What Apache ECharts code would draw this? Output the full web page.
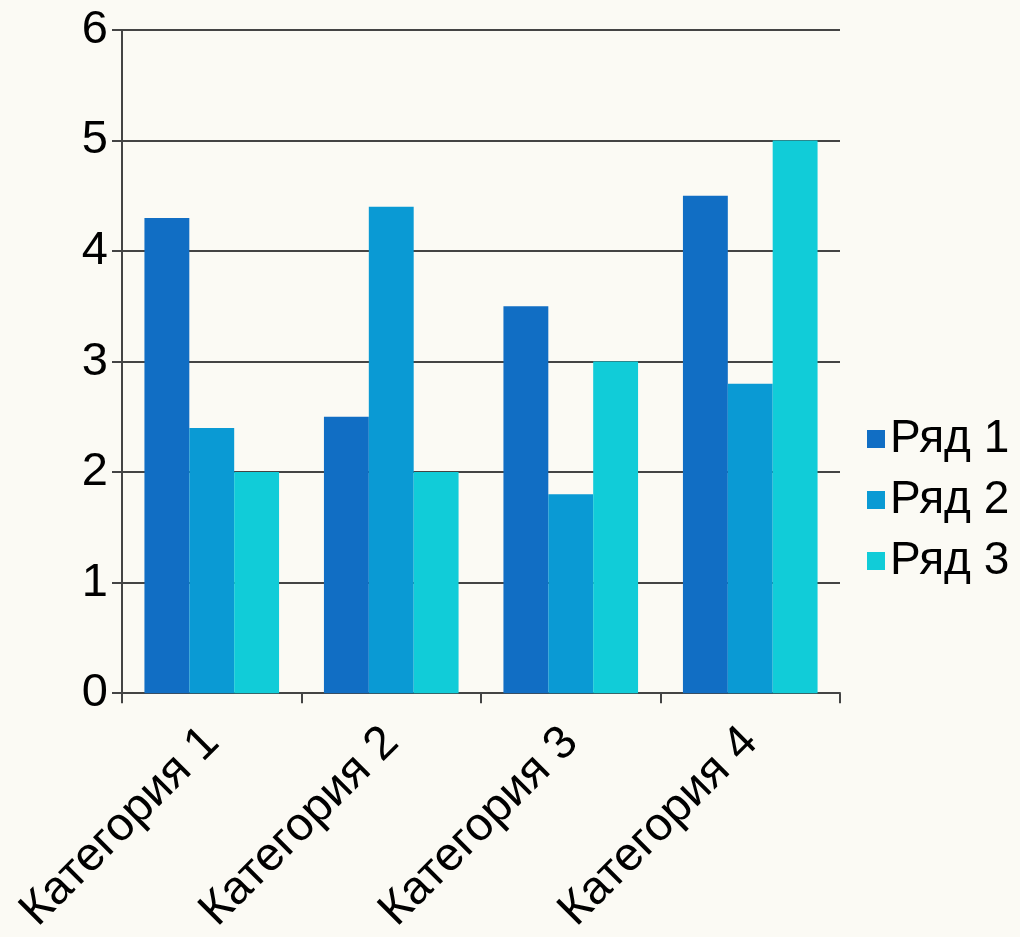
<!DOCTYPE html>
<html><head><meta charset="utf-8">
<script src="https://cdn.jsdelivr.net/npm/echarts@6/dist/echarts.min.js"></script>
<style>html,body{margin:0;padding:0;background:#fbfaf4;}#c{width:1020px;height:937px;}</style>
</head><body><div id="c"></div>
<script>
const categories = ['Категория 1','Категория 2','Категория 3','Категория 4'];
const seriesNames = ['Ряд 1','Ряд 2','Ряд 3'];
const row1 = [4.3, 2.5, 3.5, 4.5];
const row2 = [2.4, 4.4, 1.8, 2.8];
const row3 = [2.0, 2.0, 3.0, 5.0];
const colors = ['#116ec4','#0a9ad4','#11ccd8'];
const yTicks = [0,1,2,3,4,5,6];

const chart = echarts.init(document.getElementById('c'));
const font = 'Liberation Sans, Arial, sans-serif';
chart.setOption({
  backgroundColor: '#fbfaf4',
  animation: false,
  color: colors,
  grid: {left: 122, top: 30, right: 180, bottom: 242, containLabel: false},
  legend: {
    orient: 'vertical', left: 862, top: 411, itemWidth: 18, itemHeight: 18, itemGap: 15,
    icon: 'rect', data: seriesNames,
    textStyle: {fontFamily: font, fontSize: 46, lineHeight: 40, color: '#000'}
  },
  xAxis: {
    type: 'category', data: categories,
    axisLine: {lineStyle: {color: '#444', width: 2}},
    axisTick: {show: true, length: 10, lineStyle: {color: '#444', width: 2}},
    axisLabel: {rotate: 45, fontFamily: font, fontSize: 47, color: '#000', margin: 42, interval: 0}
  },
  yAxis: {
    type: 'value', min: yTicks[0], max: yTicks[yTicks.length-1], interval: 1,
    axisLine: {show: true, lineStyle: {color: '#444', width: 2}},
    axisTick: {show: true, length: 10, lineStyle: {color: '#444', width: 2}},
    axisLabel: {fontFamily: font, fontSize: 47, color: '#000', margin: 14},
    splitLine: {lineStyle: {color: '#444', width: 2}}
  },
  series: [
    {name: seriesNames[0], type: 'bar', data: row1, barGap: '0%', barCategoryGap: '25%'},
    {name: seriesNames[1], type: 'bar', data: row2, barGap: '0%', barCategoryGap: '25%'},
    {name: seriesNames[2], type: 'bar', data: row3, barGap: '0%', barCategoryGap: '25%'}
  ]
});
</script></body></html>
